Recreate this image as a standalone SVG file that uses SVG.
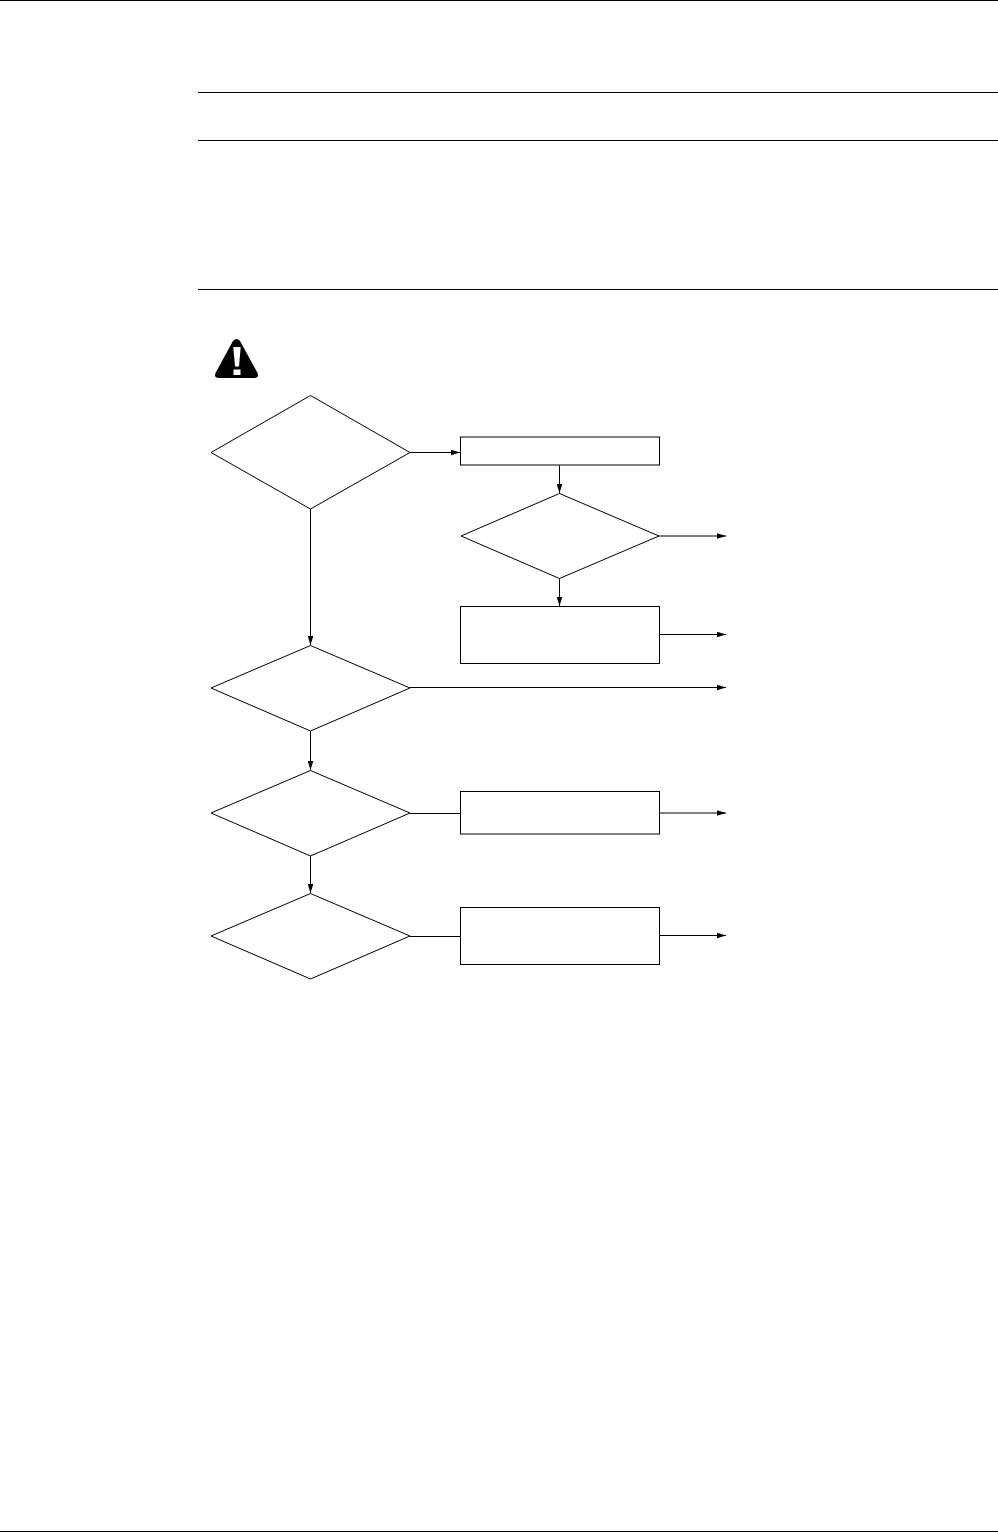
<svg xmlns="http://www.w3.org/2000/svg" width="998" height="1532" viewBox="0 0 998 1532">
<style>
.n{fill:#fff;stroke:#000;stroke-width:1}
.c{fill:none;stroke:#000;stroke-width:1}
.r{fill:none;stroke:#000;stroke-width:1}
</style>
<defs>
<marker id="a" markerUnits="userSpaceOnUse" markerWidth="10" markerHeight="6" refX="9" refY="3" orient="auto"><path d="M0 0.2L9 3L0 5.8z" fill="#000"/></marker>
</defs>
<rect width="998" height="1532" fill="#fff"/>
<g id="rules">
<path class="r" d="M0 0.5H998M198 92.5H998M198 140.5H998M198 289.5H998M0 1531.5H998"/>
</g>
<g id="warning-icon">
<path d="M233 341Q236.500 337 240 341L257 372Q260 378 254 378H219Q213 378 216 372Z" fill="#000"/>
<path d="M233.300 347H240.700L239 366.500H235Z" fill="#fff"/>
<rect x="233.500" y="369.500" width="7" height="5.500" fill="#fff"/>
</g>
<g id="connectors">
<path class="c" marker-end="url(#a)" d="M410 452.500H460"/>
<path class="c" marker-end="url(#a)" d="M559.500 465.500V493"/>
<path class="c" marker-end="url(#a)" d="M659 536H726"/>
<path class="c" marker-end="url(#a)" d="M559.500 578.500V606"/>
<path class="c" marker-end="url(#a)" d="M660 634.500H726"/>
<path class="c" marker-end="url(#a)" d="M310.500 509V645"/>
<path class="c" marker-end="url(#a)" d="M410 687.500H726"/>
<path class="c" marker-end="url(#a)" d="M310.500 731V770"/>
<path class="c" d="M410 813.500H460"/>
<path class="c" marker-end="url(#a)" d="M660 813H726"/>
<path class="c" marker-end="url(#a)" d="M310.500 856V893"/>
<path class="c" d="M410 936.500H460"/>
<path class="c" marker-end="url(#a)" d="M660 935.500H726"/>
</g>
<g id="d1"><polygon class="n" points="310.500,395.500 410,452.500 310.500,509 211,452.500"/></g>
<g id="r1"><rect class="n" x="460.500" y="437" width="199" height="28"/></g>
<g id="d2"><polygon class="n" points="559.500,493.500 659,536 559.500,578.500 461,536"/></g>
<g id="r2"><rect class="n" x="460.500" y="606.500" width="199" height="57"/></g>
<g id="d3"><polygon class="n" points="310.500,645.500 410,688 310.500,731 211,688"/></g>
<g id="d4"><polygon class="n" points="310.500,770.500 410,813 310.500,856 211,813"/></g>
<g id="r3"><rect class="n" x="460.500" y="791.500" width="199" height="42.500"/></g>
<g id="d5"><polygon class="n" points="310.500,893.500 410,936 310.500,979 211,936"/></g>
<g id="r4"><rect class="n" x="460.500" y="907.500" width="199" height="57"/></g>
</svg>
